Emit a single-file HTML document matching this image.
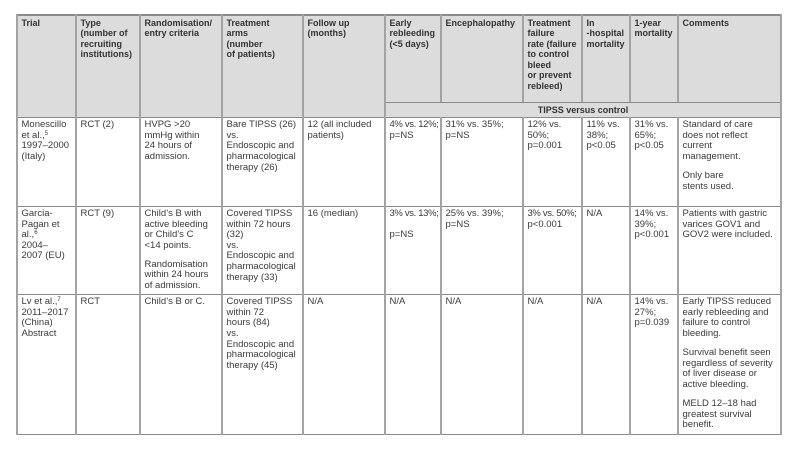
<!DOCTYPE html>
<html><head><meta charset="utf-8">
<style>
html,body{margin:0;padding:0;background:#fff;}
body{width:797px;height:453px;position:relative;overflow:hidden;font-family:"Liberation Sans",Arial,sans-serif;}
.hbg{position:absolute;left:17px;top:15px;width:764px;height:102px;background:#dcdcdc;}
.v{position:absolute;width:1.6px;background:#a3a3a3;}
.h{position:absolute;height:1.6px;background:#8a8a8a;}
.t{position:absolute;white-space:nowrap;font-size:9.5px;line-height:10.6px;color:#3a3a3a;}
.hd{position:absolute;white-space:nowrap;font-size:9px;line-height:10.6px;color:#333;font-weight:bold;}
.p{margin-top:8.5px;}
.s{font-size:6px;vertical-align:3px;line-height:0;}
.n{letter-spacing:-0.35px;}
</style></head><body>
<div class="hbg"></div>

<div class="h" style="left:16.2px;top:14.2px;width:765.6px"></div>
<div class="h" style="left:385px;top:101.7px;width:396.8px"></div>
<div class="h" style="left:16.2px;top:116.7px;width:765.6px"></div>
<div class="h" style="left:16.2px;top:205.5px;width:765.6px"></div>
<div class="h" style="left:16.2px;top:293.5px;width:765.6px"></div>
<div class="h" style="left:16.2px;top:433.5px;width:765.6px"></div>

<div class="v" style="left:16.2px;top:14.2px;height:420.8px"></div>
<div class="v" style="left:75.2px;top:14.2px;height:420.8px"></div>
<div class="v" style="left:139.2px;top:14.2px;height:420.8px"></div>
<div class="v" style="left:221.2px;top:14.2px;height:420.8px"></div>
<div class="v" style="left:302.2px;top:14.2px;height:420.8px"></div>
<div class="v" style="left:384.2px;top:14.2px;height:420.8px"></div>
<div class="v" style="left:780.2px;top:14.2px;height:420.8px"></div>
<div class="v" style="left:440.2px;top:14.2px;height:88px"></div>
<div class="v" style="left:440.2px;top:117px;height:318px"></div>
<div class="v" style="left:522.2px;top:14.2px;height:88px"></div>
<div class="v" style="left:522.2px;top:117px;height:318px"></div>
<div class="v" style="left:581.2px;top:14.2px;height:88px"></div>
<div class="v" style="left:581.2px;top:117px;height:318px"></div>
<div class="v" style="left:629.2px;top:14.2px;height:88px"></div>
<div class="v" style="left:629.2px;top:117px;height:318px"></div>
<div class="v" style="left:677.2px;top:14.2px;height:88px"></div>
<div class="v" style="left:677.2px;top:117px;height:318px"></div>

<div class="hd" style="left:21.5px;top:17.5px">Trial</div>
<div class="hd" style="left:80.5px;top:17.5px">Type<br>(number of<br>recruiting<br>institutions)</div>
<div class="hd" style="left:144.5px;top:17.5px">Randomisation/<br>entry criteria</div>
<div class="hd" style="left:226.5px;top:17.5px">Treatment<br>arms<br>(number<br>of patients)</div>
<div class="hd" style="left:307.5px;top:17.5px">Follow up<br>(months)</div>
<div class="hd" style="left:389.5px;top:17.5px">Early<br>rebleeding<br>(&lt;5 days)</div>
<div class="hd" style="left:445.5px;top:17.5px">Encephalopathy</div>
<div class="hd" style="left:527.5px;top:17.5px">Treatment<br>failure<br>rate (failure<br>to control<br>bleed<br>or prevent<br>rebleed)</div>
<div class="hd" style="left:586.5px;top:17.5px">In<br>-hospital<br>mortality</div>
<div class="hd" style="left:634.5px;top:17.5px">1-year<br>mortality</div>
<div class="hd" style="left:682.5px;top:17.5px">Comments</div>
<div class="hd" style="left:385px;top:104.5px;width:396px;text-align:center">TIPSS versus control</div>

<div class="t" style="left:21.5px;top:120.2px">Monescillo<br>et al.,<span class="s">5</span><br>1997–2000<br>(Italy)</div>
<div class="t" style="left:80.5px;top:120.2px">RCT (2)</div>
<div class="t" style="left:144.5px;top:120.2px">HVPG &gt;20<br>mmHg within<br>24 hours of<br>admission.</div>
<div class="t" style="left:226.5px;top:120.2px">Bare TIPSS (26)<br>vs.<br>Endoscopic and<br>pharmacological<br>therapy (26)</div>
<div class="t" style="left:307.5px;top:120.2px">12 (all included<br>patients)</div>
<div class="t" style="left:389.5px;top:120.2px"><span class="n">4% vs. 12%;</span><br>p=NS</div>
<div class="t" style="left:445.5px;top:120.2px">31% vs. 35%;<br>p=NS</div>
<div class="t" style="left:527.5px;top:120.2px">12% vs.<br>50%;<br>p=0.001</div>
<div class="t" style="left:586.5px;top:120.2px">11% vs.<br>38%;<br>p&lt;0.05</div>
<div class="t" style="left:634.5px;top:120.2px">31% vs.<br>65%;<br>p&lt;0.05</div>
<div class="t" style="left:682.5px;top:120.2px">Standard of care<br>does not reflect<br>current<br>management.<div class="p">Only bare<br>stents used.</div></div>

<div class="t" style="left:21.5px;top:209px">Garcia-<br>Pagan et<br>al.,<span class="s">6</span><br>2004–<br>2007 (EU)</div>
<div class="t" style="left:80.5px;top:209px">RCT (9)</div>
<div class="t" style="left:144.5px;top:209px">Child’s B with<br>active bleeding<br>or Child’s C<br>&lt;14 points.<div class="p">Randomisation<br>within 24 hours<br>of admission.</div></div>
<div class="t" style="left:226.5px;top:209px">Covered TIPSS<br>within 72 hours<br>(32)<br>vs.<br>Endoscopic and<br>pharmacological<br>therapy (33)</div>
<div class="t" style="left:307.5px;top:209px">16 (median)</div>
<div class="t" style="left:389.5px;top:209px"><span class="n">3% vs. 13%;</span><br><br>p=NS</div>
<div class="t" style="left:445.5px;top:209px">25% vs. 39%;<br>p=NS</div>
<div class="t" style="left:527.5px;top:209px"><span class="n">3% vs. 50%;</span><br>p&lt;0.001</div>
<div class="t" style="left:586.5px;top:209px">N/A</div>
<div class="t" style="left:634.5px;top:209px">14% vs.<br>39%;<br>p&lt;0.001</div>
<div class="t" style="left:682.5px;top:209px">Patients with gastric<br>varices GOV1 and<br>GOV2 were included.</div>

<div class="t" style="left:21.5px;top:297.2px">Lv et al.,<span class="s">7</span><br>2011–2017<br>(China)<br>Abstract</div>
<div class="t" style="left:80.5px;top:297.2px">RCT</div>
<div class="t" style="left:144.5px;top:297.2px">Child’s B or C.</div>
<div class="t" style="left:226.5px;top:297.2px">Covered TIPSS<br>within 72<br>hours (84)<br>vs.<br>Endoscopic and<br>pharmacological<br>therapy (45)</div>
<div class="t" style="left:307.5px;top:297.2px">N/A</div>
<div class="t" style="left:389.5px;top:297.2px">N/A</div>
<div class="t" style="left:445.5px;top:297.2px">N/A</div>
<div class="t" style="left:527.5px;top:297.2px">N/A</div>
<div class="t" style="left:586.5px;top:297.2px">N/A</div>
<div class="t" style="left:634.5px;top:297.2px">14% vs.<br>27%;<br>p=0.039</div>
<div class="t" style="left:682.5px;top:297.2px">Early TIPSS reduced<br>early rebleeding and<br>failure to control<br>bleeding.<div class="p">Survival benefit seen<br>regardless of severity<br>of liver disease or<br>active bleeding.</div><div class="p">MELD 12–18 had<br>greatest survival<br>benefit.</div></div>
</body></html>
